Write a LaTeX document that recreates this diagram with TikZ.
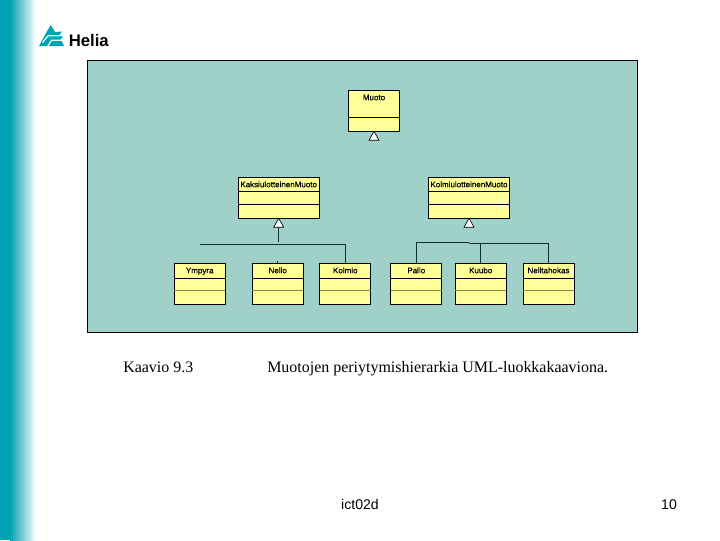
\documentclass[tikz,border=0pt]{standalone}
\usepackage{fontspec}
\setmainfont{Liberation Serif}
\newfontfamily\arialfont{Liberation Sans}
\newfontfamily\classfont[FakeBold=0.35]{Liberation Sans}
\usetikzlibrary{calc}
\definecolor{HeliaTeal}{RGB}{0,163,178}
\definecolor{PanelGreen}{RGB}{160,209,200}
\definecolor{ClassYellow}{RGB}{255,255,153}
\definecolor{FaintLine}{RGB}{135,135,75}
\definecolor{WireDark}{RGB}{10,50,50}
\tikzset{
  classbox/.style={draw=black,fill=ClassYellow,line width=0.55pt,minimum height=40.5*0.025cm,inner sep=0pt},
  classname/.style={font=\classfont\fontsize{5.7}{6}\selectfont,inner sep=0pt,anchor=mid},
  wire/.style={WireDark,line width=0.5pt},
  headtip/.style={draw=black,fill=white,line width=0.45pt}
}
% name, label, centre x, top y, width, two rule heights, colour of the lower rule
\newcommand{\classnode}[8]{
  \node[classbox,minimum width=#5*0.025cm,anchor=north] (#1) at (#3,#4) {};
  \node[classname] (#1Name) at ($(#1.north)+(0,7)$) {#2};
  \draw[line width=0.55pt] ($(#1.north west)+(0,#6)$)--($(#1.north east)+(0,#6)$);
  \draw[line width=0.55pt,#8] ($(#1.north west)+(0.5,#7)$)--($(#1.north east)+(-0.5,#7)$);
}
\begin{document}
\begin{tikzpicture}[x=0.025cm,y=-0.025cm]
  \useasboundingbox (0,0) rectangle (720,540);
  % side band
  \fill[HeliaTeal] (0,0) rectangle (10,540);
  \fill[left color=HeliaTeal,right color=white] (10,0) rectangle (36,540);
  % logo
  \fill[HeliaTeal] (50.7,25)--(55,32)--(62,31.5)--(59,35.5)--(63,37)--(60.5,39)--(64,46)--(39,46)--(45.5,34)--cycle;
  \draw[white,line width=0.8pt] (42.5,42.5)--(48,35.8)--(60,35.8);
  \draw[white,line width=0.8pt] (47.5,46.5)--(51.5,40.3)--(64,40.3);
  \node[font=\arialfont\bfseries\fontsize{11.9}{13}\selectfont,inner sep=0pt,anchor=base west] (Logo) at (68.5,46) {Helia};
  % panel
  \draw[fill=PanelGreen,line width=0.6pt] (87,60.5) rectangle (637.5,332);
  % classes
  \classnode{Muoto}{Muoto}{374}{90}{51}{27}{27}{black}
  \classnode{Kaksi}{KaksiulotteinenMuoto}{278.7}{177}{81}{14}{27}{black}
  \classnode{Kolmi}{KolmiulotteinenMuoto}{469}{177}{81}{14}{27}{black}
  \classnode{Ympyra}{Ympyra}{199.7}{263}{51}{15.5}{27.5}{FaintLine}
  \classnode{Nelio}{Nelio}{277.7}{263}{51}{15.5}{27.5}{FaintLine}
  \classnode{Kolmio}{Kolmio}{345.3}{263}{51}{15.5}{27.5}{FaintLine}
  \classnode{Pallo}{Pallo}{416.3}{263}{51}{15.5}{27.5}{FaintLine}
  \classnode{Kuubo}{Kuubo}{480.7}{263}{51}{15.5}{27.5}{FaintLine}
  \classnode{Nelitahokas}{Nelitahokas}{548.5}{263}{51}{15.5}{27.5}{FaintLine}
  % triangles under the parents
  \draw[headtip] (Muoto.south)--++(5,9)--++(-10,0)--cycle;
  \draw[headtip] (Kaksi.south)--++(5,9)--++(-10,0)--cycle;
  \draw[headtip] (Kolmi.south)--++(5,9)--++(-10,0)--cycle;
  % connectors
  \coordinate (KaksiStem) at ($(Kaksi.south)+(0,8.5)$);
  \coordinate (KaksiEnd) at ($(KaksiStem)+(0,15.5)$);
  \coordinate (LeftBus) at (200,244.5);
  \draw[wire] (KaksiStem)--(KaksiEnd);
  \draw[wire] (LeftBus)-|(Kolmio.north);
  \draw[wire] (Nelio.north)--++(0,-2);
  \coordinate (RightBus) at (469,242.5);
  \draw[wire] (RightBus)-|(Pallo.north);
  \draw[wire] (RightBus)--++(0,0.7)-|(Nelitahokas.north);
  \draw[wire] (Kuubo.north)--++(0,-19.8);
  % caption
  \node[font=\fontsize{11.35}{12}\selectfont,inner sep=0pt,anchor=base west] (CaptionNo) at (123,372.5) {Kaavio 9.3};
  \node[font=\fontsize{11.35}{12}\selectfont,inner sep=0pt,anchor=base west] (CaptionText) at (267,372.5) {Muotojen periytymishierarkia UML-luokkakaaviona.};
  % footer
  \node[font=\arialfont\fontsize{10}{11}\selectfont,inner sep=0pt,anchor=base] (Footer) at (360,509) {ict02d};
  \node[font=\arialfont\fontsize{10}{11}\selectfont,inner sep=0pt,anchor=base] (PageNo) at (669,509) {10};
\end{tikzpicture}
\end{document}
